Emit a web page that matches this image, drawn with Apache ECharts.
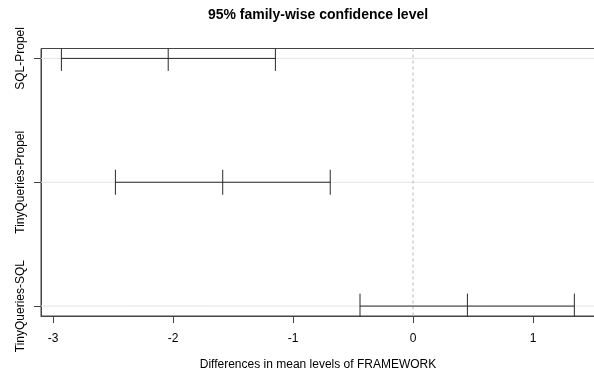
<!DOCTYPE html>
<html>
<head>
<meta charset="utf-8">
<script src="https://cdn.jsdelivr.net/npm/echarts@6/dist/echarts.min.js"></script>
<style>
html,body{margin:0;padding:0;background:#fff;}
#chart{width:594px;height:375px;}
</style>
</head>
<body>
<div id="chart"></div>
<script>
const comparisons = ['SQL-Propel', 'TinyQueries-Propel', 'TinyQueries-SQL'];
const yPositions = [3, 2, 1];
const lowerValues = [-2.93, -2.48, -0.442];
const diffValues = [-2.04, -1.586, 0.453];
const upperValues = [-1.147, -0.69, 1.344];
const xTickValues = [-3, -2, -1, 0, 1];
const referenceLines = [0];
const titleText = '95% family-wise confidence level';
const xAxisTitle = 'Differences in mean levels of FRAMEWORK';

const FONT = "'Liberation Sans', Arial, Helvetica, sans-serif";
const seriesData = comparisons.map((c, i) => [lowerValues[i], diffValues[i], upperValues[i], yPositions[i]]);

const chart = echarts.init(document.getElementById('chart'), null, {renderer: 'canvas'});

function renderGrid(params, api) {
  const y = api.value(3);
  const p = api.coord([api.value(0), y]);
  const cs = params.coordSys;
  return {type: 'line', shape: {x1: cs.x, y1: p[1], x2: cs.x + cs.width, y2: p[1]}, style: {stroke: '#e4e4e4', lineWidth: 1}};
}

function renderRef(params, api) {
  const cs = params.coordSys;
  const p = api.coord([api.value(0), 2]);
  return {type: 'line', shape: {x1: p[0], y1: cs.y, x2: p[0], y2: cs.y + cs.height},
    style: {stroke: '#b8b8b8', lineWidth: 1, lineDash: [3, 3]}};
}

function renderItem(params, api) {
  const y = api.value(3);
  const pL = api.coord([api.value(0), y]);
  const pM = api.coord([api.value(1), y]);
  const pU = api.coord([api.value(2), y]);
  const h = 12.5;
  const barStyle = {stroke: '#2a2a2a', lineWidth: 1};
  const tick = (p) => ({type: 'line', shape: {x1: p[0], y1: p[1] - h, x2: p[0], y2: p[1] + h}, style: barStyle});
  return {
    type: 'group',
    children: [
      {type: 'line', shape: {x1: pL[0], y1: pL[1], x2: pU[0], y2: pU[1]}, style: barStyle},
      tick(pL), tick(pM), tick(pU)
    ]
  };
}

const option = {
  animation: false,
  backgroundColor: '#fff',
  textStyle: {fontFamily: FONT},
  graphic: [{
    type: 'text', x: 318, y: 15,
    style: {text: titleText, font: 'bold 14px ' + FONT, fill: '#000', align: 'center', verticalAlign: 'middle'}
  }],
  grid: {
    left: 41, right: -1, top: 48.5, bottom: 59,
    show: true, borderColor: '#444', borderWidth: 1,
    containLabel: false, outerBoundsMode: 'none'
  },
  xAxis: {
    type: 'value', min: -3.1, max: 1.516,
    axisLine: {show: true, onZero: false, lineStyle: {color: '#444', width: 1}},
    axisTick: {show: true, customValues: xTickValues, length: 7, lineStyle: {color: '#444'}},
    axisLabel: {customValues: xTickValues, fontSize: 12, color: '#000', margin: 17, fontFamily: FONT},
    splitLine: {show: false},
    name: xAxisTitle, nameLocation: 'middle', nameGap: 43,
    nameTextStyle: {fontSize: 12, color: '#000', fontFamily: FONT}
  },
  yAxis: {
    type: 'value', min: 0.92, max: 3.08,
    axisLine: {show: true, onZero: false, lineStyle: {color: '#444', width: 1}},
    axisTick: {show: true, customValues: yPositions, length: 7, lineStyle: {color: '#444'}},
    axisLabel: {
      customValues: yPositions, rotate: 90, fontSize: 12, color: '#000', margin: 14, fontFamily: FONT,
      formatter: (v) => comparisons[yPositions.indexOf(v)] || ''
    },
    splitLine: {show: false}
  },
  series: [
    {type: 'custom', clip: true, silent: true, renderItem: renderGrid, encode: {x: 0, y: 3}, data: seriesData, z: 1},
    {type: 'custom', clip: true, silent: true, renderItem: renderRef, encode: {x: 0}, data: referenceLines.map(v => [v]), z: 2},
    {type: 'custom', clip: true, renderItem: renderItem, encode: {x: [0, 1, 2], y: 3}, data: seriesData, z: 3}
  ]
};
chart.setOption(option);
</script>
</body>
</html>
